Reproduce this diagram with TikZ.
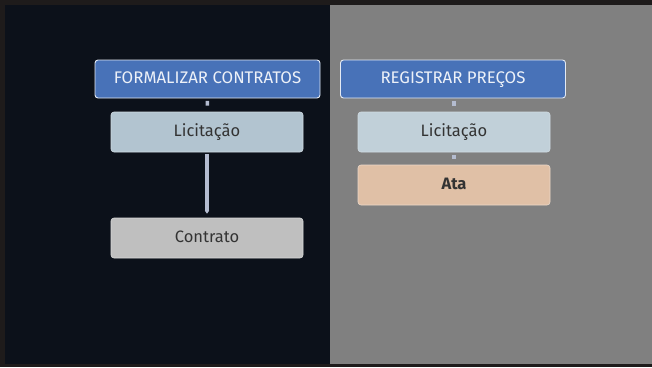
\documentclass[tikz,border=0pt]{standalone}
\usepackage{fontspec}
\setmainfont{Fira Sans}
\usepackage{tikz}
\usetikzlibrary{positioning, arrows.meta}
\definecolor{frameCol}{HTML}{1E1B1B}
\definecolor{darkPanel}{HTML}{0C111A}
\definecolor{grayPanel}{HTML}{808080}
\definecolor{headBlue}{HTML}{4872B8}
\definecolor{licBlue}{HTML}{B2C4D0}
\definecolor{contrGray}{HTML}{BFBFBF}
\definecolor{ataPeach}{HTML}{E0C0A6}
\definecolor{linkCol}{HTML}{B4BCD0}
\tikzstyle{headBox}=[draw=white!85!headBlue, line width=0.9pt, fill=headBlue,
  rounded corners=3pt, minimum width=225, minimum height=38,
  text height=12pt, text depth=3pt,
  text=white!90!headBlue, font=\fontsize{16.8}{19}\selectfont]
\tikzstyle{stepBox}=[draw=white!40!licBlue, line width=0.6pt, rounded corners=3pt,
  minimum width=192, minimum height=40, text height=12pt, text depth=3pt,
  text=black!80, font=\fontsize{16.5}{19}\selectfont]
\tikzstyle{link}=[draw=linkCol, line width=4pt, shorten <=2pt, shorten >=6pt]

\begin{document}
\begin{tikzpicture}[x=1pt, y=-1pt]
      % panels
      \fill[frameCol] (0,0) rectangle (652,367);
      \fill[darkPanel] (5,5) rectangle (330,364);
      \fill[grayPanel] (330,5) rectangle (652,364);
      \useasboundingbox (0,0) rectangle (652,367);

      % left column
      \node[headBox] (formalizar) at (207.5,79) {FORMALIZAR CONTRATOS};
      \node[stepBox, fill=licBlue] (licL) at (207,132) {Licitação};
      \node[stepBox, fill=contrGray, draw=white!40!contrGray] (contrato) at (207,238) {Contrato};

      % right column
      \node[headBox] (registrar) at (453,79) {REGISTRAR PREÇOS};
      \node[stepBox, fill=licBlue!80!white] (licR) at (454,132) {Licitação};
      \node[stepBox, fill=ataPeach, draw=white!40!ataPeach] (ata) at (454,185) {\bfseries Ata};

      \draw[link, line width=3.5pt, shorten <=2.5pt, shorten >=6pt] (formalizar) -- (licL);
      \draw[link, -{Triangle[length=3pt, width=4pt]}, shorten >=4pt] (licL) -- (contrato);
      \draw[link, line width=3.5pt, shorten <=2.5pt, shorten >=6pt] (registrar.south -| licR) -- (licR);
      \draw[link, line width=3.5pt, shorten <=2.5pt, shorten >=6pt] (licR) -- (ata);
    \end{tikzpicture}
\end{document}
